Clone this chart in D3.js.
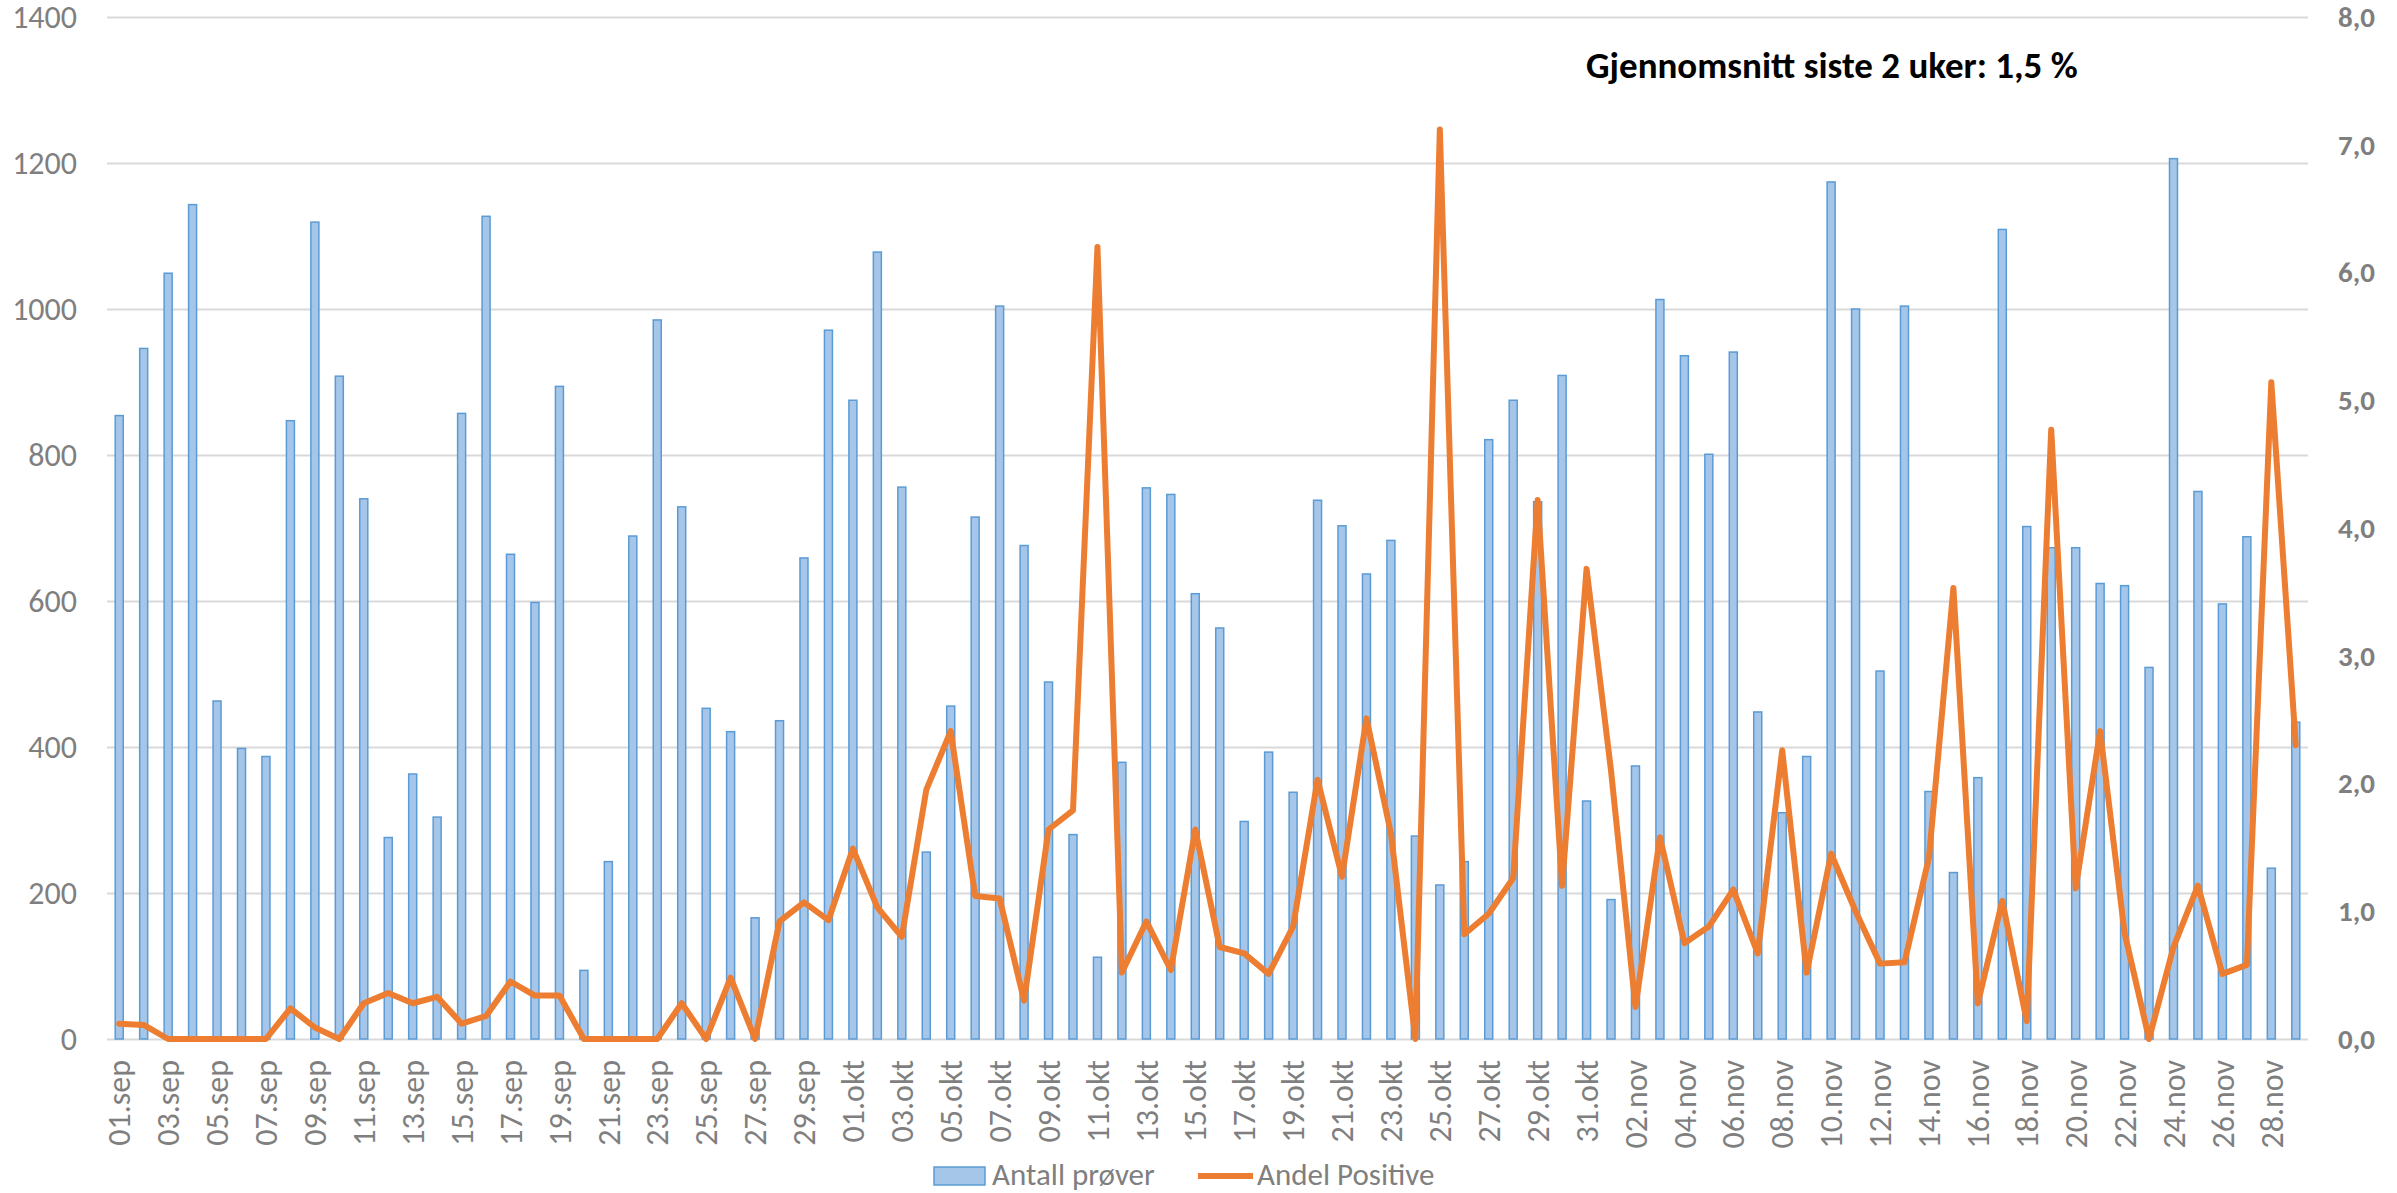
<!DOCTYPE html>
<meta charset="utf-8">
<html>
<head>
<style>
  body { margin: 0; background: #fff; }
  svg { display: block; font-family: Carlito, Calibri, Lato, sans-serif; }
  .tick text { fill: #7f7f7f; font-size: 32px; font-family: Carlito, Calibri, Lato, sans-serif; }
  .right .tick text { font-size: 29px; font-weight: bold; }
  .grid line { stroke: #d9d9d9; stroke-width: 2; }
</style>
</head>
<body>
<div id="chart"></div>

<script src="https://d3js.org/d3.v7.min.js"></script>
<script>

// dates, Sept 1 - Nov 29
var sep = ["01","02","03","04","05","06","07","08","09","10","11","12","13","14","15",
           "16","17","18","19","20","21","22","23","24","25","26","27","28","29","30"];
var okt = sep.concat(["31"]);
var nov = sep.slice(0, 29);
var dates = sep.map(function(d){ return d + ".sep"; })
  .concat(okt.map(function(d){ return d + ".okt"; }))
  .concat(nov.map(function(d){ return d + ".nov"; }));

// Antall prøver (left axis)
var tests = [854,946,1049,1143,463,398,387,847,1119,908,740,276,363,304,857,
             1127,664,598,894,94,243,689,985,729,453,421,166,436,659,971,
             875,1078,756,256,456,715,1004,676,489,280,112,379,755,746,610,
             563,298,393,338,738,703,637,683,278,211,243,821,875,736,909,326,
             191,374,1013,936,801,941,448,310,387,1174,1000,504,1004,339,228,
             358,1109,702,673,673,624,621,509,1206,750,596,688,234,434];

// Andel Positive, % (right axis)
var positive = [0.12,0.11,0,0,0,0,0,0.24,0.09,0,0.28,0.36,0.28,0.33,0.12,
                0.18,0.45,0.34,0.34,0,0,0,0,0.28,0,0.48,0,0.92,1.07,0.93,
                1.49,1.03,0.80,1.95,2.41,1.12,1.10,0.30,1.64,1.79,6.20,0.52,0.92,0.54,1.64,
                0.72,0.67,0.51,0.88,2.03,1.27,2.51,1.61,0,7.12,0.82,0.98,1.26,4.22,1.20,3.68,
                2.1,0.25,1.58,0.75,0.88,1.17,0.67,2.26,0.52,1.45,1.00,0.59,0.60,1.42,3.53,
                0.28,1.08,0.14,4.77,1.18,2.41,0.83,0,0.72,1.20,0.51,0.58,5.14,2.30];

var leftTicks = [0,200,400,600,800,1000,1200,1400];
var rightTicks = [0,1,2,3,4,5,6,7,8];
var note = "Gjennomsnitt siste 2 uker: 1,5 %";

var width = 2397, height = 1193;
var pLeft = 107, pRight = 2308, pTop = 17, pBottom = 1039;

var svg = d3.select("#chart").append("svg")
    .attr("width", width)
    .attr("height", height);

var x = d3.scaleBand().domain(dates).range([pLeft, pRight]);
var y = d3.scaleLinear().domain([0, 1400]).range([pBottom, pTop]);
var y2 = d3.scaleLinear().domain([0, 8]).range([pBottom, pTop]);

// gridlines
svg.append("g")
    .attr("class", "grid")
    .attr("transform", "translate(" + pLeft + ",0)")
    .call(d3.axisLeft(y).tickValues(leftTicks).tickSize(-(pRight - pLeft)).tickFormat(""))
    .call(function(g){ g.select(".domain").remove(); });

// left axis labels
svg.append("g")
    .attr("transform", "translate(" + pLeft + ",0)")
    .call(d3.axisLeft(y).tickValues(leftTicks).tickSize(0).tickPadding(30).tickFormat(d3.format("d")))
    .call(function(g){ g.select(".domain").remove(); });

// right axis labels
svg.append("g")
    .attr("class", "right")
    .attr("transform", "translate(" + pRight + ",0)")
    .call(d3.axisRight(y2).tickValues(rightTicks).tickSize(0).tickPadding(30)
      .tickFormat(function(d){ return d3.format(".1f")(d).replace(".", ","); }))
    .call(function(g){ g.select(".domain").remove(); });

// bottom axis, every second date
svg.append("g")
    .attr("transform", "translate(0," + pBottom + ")")
    .call(d3.axisBottom(x).tickValues(dates.filter(function(d, i){ return i % 2 == 0; })).tickSize(0))
    .call(function(g){ g.select(".domain").remove(); })
    .selectAll("text")
      .attr("transform", "rotate(-90)")
      .attr("x", -21)
      .attr("y", 0)
      .attr("dy", "0.35em")
      .style("text-anchor", "end");

// bars
var bw = 8;
svg.append("g").selectAll("rect")
    .data(tests)
    .enter().append("rect")
      .attr("x", function(d, i){ return x(dates[i]) + x.bandwidth() / 2 - bw / 2; })
      .attr("y", function(d){ return y(d); })
      .attr("width", bw)
      .attr("height", function(d){ return pBottom - y(d); })
      .attr("fill", "#a5c6e9")
      .attr("stroke", "#5b9bd5")
      .attr("stroke-width", 1.5);

// line
var line = d3.line()
    .x(function(d, i){ return x(dates[i]) + x.bandwidth() / 2; })
    .y(function(d){ return y2(d); });

svg.append("path")
    .datum(positive)
    .attr("d", line)
    .attr("fill", "none")
    .attr("stroke", "#ed7d31")
    .attr("stroke-width", 6)
    .attr("stroke-linejoin", "round")
    .attr("stroke-linecap", "round");

// note
svg.append("text")
    .attr("x", 1586)
    .attr("y", 78)
    .style("font-size", "37px")
    .style("font-weight", "bold")
    .attr("fill", "#000")
    .text(note);

// legend
var lg = svg.append("g");
lg.append("rect")
    .attr("x", 934).attr("y", 1167).attr("width", 51).attr("height", 18)
    .attr("fill", "#a5c6e9").attr("stroke", "#5b9bd5").attr("stroke-width", 1.5);
lg.append("text")
    .attr("x", 992).attr("y", 1185)
    .style("font-size", "31px").attr("fill", "#7f7f7f")
    .text("Antall prøver");
lg.append("line")
    .attr("x1", 1198).attr("x2", 1253).attr("y1", 1176).attr("y2", 1176)
    .attr("stroke", "#ed7d31").attr("stroke-width", 6);
lg.append("text")
    .attr("x", 1257).attr("y", 1185)
    .style("font-size", "31px").attr("fill", "#7f7f7f")
    .text("Andel Positive");

</script>
</body>
</html>
